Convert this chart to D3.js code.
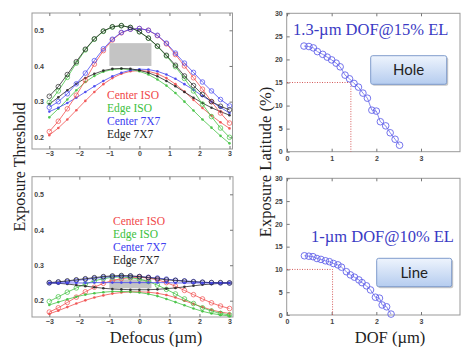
<!DOCTYPE html>
<html>
<head>
<meta charset="utf-8">
<script src="https://cdn.jsdelivr.net/npm/d3@7"></script>
<style>
  body { margin: 0; background: #fff; }
  svg { display: block; }
  .axis text { font-family: "Liberation Sans", Arial, sans-serif; font-weight: bold; font-size: 7px; fill: #444; }
  .axis line { stroke: #777; }
  .axis path { stroke: none; }
  .serif { font-family: "Liberation Serif", "Times New Roman", serif; }
</style>
</head>
<body>
<div id="chart-area"></div>
<script>
// defocus positions (um) shared by all threshold curves
const defocus = [-3,-2.7,-2.4,-2.1,-1.8,-1.5,-1.2,-0.9,-0.6,-0.3,0,0.3,0.6,0.9,1.2,1.5,1.8,2.1,2.4,2.7,3];

// Hole: exposure threshold curves (o = open circles, d = dots)
const holeCenterIsoO = [0.216,0.245,0.280,0.318,0.360,0.405,0.443,0.473,0.493,0.503,0.505,0.500,0.485,0.462,0.432,0.400,0.367,0.335,0.300,0.268,0.240];
const holeCenterIsoD = [0.206,0.226,0.250,0.276,0.302,0.327,0.349,0.366,0.378,0.385,0.387,0.385,0.378,0.366,0.349,0.328,0.305,0.282,0.261,0.242,0.225];
const holeEdgeIsoO   = [0.298,0.330,0.368,0.408,0.445,0.475,0.497,0.509,0.513,0.508,0.496,0.478,0.455,0.428,0.398,0.365,0.330,0.293,0.258,0.226,0.200];
const holeEdgeIsoD   = [0.256,0.280,0.306,0.332,0.355,0.372,0.384,0.390,0.392,0.390,0.385,0.376,0.362,0.345,0.324,0.300,0.275,0.250,0.227,0.204,0.183];
const holeCenter7O   = [0.284,0.300,0.322,0.350,0.380,0.415,0.448,0.475,0.494,0.503,0.505,0.500,0.486,0.464,0.436,0.408,0.382,0.355,0.330,0.306,0.288];
const holeCenter7D   = [0.272,0.283,0.296,0.311,0.327,0.343,0.358,0.371,0.381,0.388,0.391,0.390,0.385,0.376,0.364,0.349,0.333,0.316,0.300,0.284,0.268];
const holeEdge7O     = [0.315,0.342,0.376,0.412,0.447,0.476,0.498,0.510,0.513,0.508,0.496,0.478,0.456,0.430,0.402,0.372,0.345,0.320,0.300,0.287,0.277];
const holeEdge7D     = [0.293,0.312,0.332,0.350,0.366,0.378,0.387,0.392,0.393,0.392,0.388,0.381,0.371,0.358,0.343,0.327,0.311,0.296,0.283,0.272,0.262];

// Line: exposure threshold curves
const lineCenterIsoO = [0.168,0.180,0.195,0.210,0.225,0.238,0.249,0.257,0.262,0.265,0.266,0.264,0.259,0.251,0.241,0.229,0.217,0.205,0.194,0.185,0.178];
const lineCenterIsoD = [0.163,0.172,0.182,0.192,0.201,0.209,0.215,0.220,0.223,0.225,0.225,0.224,0.221,0.216,0.209,0.200,0.191,0.182,0.174,0.168,0.164];
const lineEdgeIsoO   = [0.198,0.211,0.224,0.236,0.247,0.256,0.262,0.266,0.267,0.265,0.261,0.254,0.244,0.232,0.219,0.205,0.192,0.180,0.171,0.164,0.160];
const lineEdgeIsoD   = [0.188,0.196,0.204,0.211,0.217,0.221,0.224,0.226,0.226,0.225,0.223,0.219,0.213,0.205,0.196,0.187,0.178,0.170,0.164,0.160,0.157];
const lineCenter7O   = [0.250,0.252,0.254,0.257,0.260,0.263,0.266,0.268,0.269,0.269,0.268,0.266,0.264,0.261,0.258,0.256,0.254,0.252,0.251,0.250,0.250];
const lineCenter7D   = [0.250,0.250,0.250,0.250,0.250,0.251,0.251,0.251,0.251,0.251,0.251,0.251,0.251,0.251,0.250,0.250,0.250,0.250,0.250,0.250,0.250];
const lineEdge7O     = [0.251,0.253,0.256,0.259,0.262,0.265,0.268,0.270,0.271,0.270,0.268,0.265,0.262,0.259,0.257,0.255,0.253,0.252,0.251,0.251,0.250];
const lineEdge7D     = [0.250,0.249,0.247,0.244,0.241,0.238,0.235,0.233,0.232,0.231,0.231,0.231,0.232,0.234,0.236,0.239,0.242,0.245,0.247,0.249,0.250];

// exposure latitude vs DOF
const holeDof = [0.38,0.49,0.59,0.68,0.80,0.90,1.00,1.10,1.19,1.30,1.40,1.50,1.60,1.70,1.80,1.90,2.00,2.09,2.21,2.31,2.42,2.52];
const holeEl  = [22.9,22.8,22.5,21.7,21.1,20.5,19.9,19.2,18.4,16.6,15.8,14.8,14.0,12.7,11.6,9.0,8.8,6.5,5.6,4.1,2.7,1.4];
const lineDof = [0.39,0.49,0.58,0.67,0.76,0.86,0.95,1.04,1.14,1.22,1.33,1.42,1.51,1.61,1.68,1.78,1.87,1.98,2.07,2.13,2.23,2.33];
const lineEl  = [13.0,12.9,12.8,12.4,12.2,11.9,11.7,11.3,11.0,10.5,9.5,8.8,8.3,7.7,7.1,6.4,5.5,3.9,3.7,2.2,1.8,0.2];

const legendNames = ["Center ISO", "Edge ISO", "Center 7X7", "Edge 7X7"];
const thresholdTicks = [0.2, 0.3, 0.4, 0.5];
const defocusTicks = [-3, -2, -1, 0, 1, 2, 3];
const latitudeTicks = [0, 5, 10, 15, 20, 25, 30];
const dofTicks = [0, 1, 2, 3];

const colors = ["#f04848", "#3cc03c", "#4040f0", "#222222"];

const svg = d3.select("#chart-area").append("svg")
    .attr("width", 461).attr("height", 348);

const defs = svg.append("defs");
const grad = defs.append("linearGradient").attr("id", "boxGrad")
    .attr("x1", 0).attr("y1", 0).attr("x2", 0).attr("y2", 1);
grad.append("stop").attr("offset", "0%").attr("stop-color", "#eef4fd");
grad.append("stop").attr("offset", "100%").attr("stop-color", "#b5ccef");

const intFmt = d3.format("d");

function frame(f) {
    svg.append("rect")
        .attr("x", f.x0).attr("y", f.y0)
        .attr("width", f.x1 - f.x0).attr("height", f.y1 - f.y0)
        .attr("fill", "#fff").attr("stroke", "#999").attr("stroke-width", 1);
}

function thresholdPanel(f, series, legendPos, rect) {
    frame(f);
    const x = d3.scaleLinear().domain([-3, 3]).range([49.3, 229.5]);
    const y = d3.scaleLinear().domain([0.2, 0.5]).range(f.yRange);

    svg.append("g").attr("class", "axis")
        .attr("transform", `translate(0,${f.y1})`)
        .call(d3.axisBottom(x).tickValues(defocusTicks).tickSizeInner(-3).tickSizeOuter(0).tickPadding(2.5).tickFormat(intFmt));
    svg.append("g").attr("class", "axis")
        .attr("transform", `translate(0,${f.y0})`)
        .call(d3.axisTop(x).tickValues(defocusTicks).tickSizeInner(-3).tickSizeOuter(0).tickFormat(""));
    svg.append("g").attr("class", "axis")
        .attr("transform", `translate(47,0)`)
        .call(d3.axisLeft(y).tickValues(thresholdTicks).tickSize(0).tickPadding(3).tickFormat(d3.format(".1f")));
    svg.append("g").attr("class", "axis")
        .attr("transform", `translate(${f.x1},0)`)
        .call(d3.axisRight(y).tickValues(thresholdTicks).tickSizeInner(-3).tickSizeOuter(0).tickFormat(""));

    // gray process window
    svg.append("rect")
        .attr("x", x(rect[0])).attr("y", y(rect[3]))
        .attr("width", x(rect[1]) - x(rect[0])).attr("height", y(rect[2]) - y(rect[3]))
        .attr("fill", "#c4c4c4");

    const line = d3.line().x((d, i) => x(defocus[i])).y(d => y(d));
    series.forEach(s => {
        const g = svg.append("g");
        g.append("path").datum(s.values)
            .attr("d", line).attr("fill", "none")
            .attr("stroke", colors[s.c]).attr("stroke-width", 0.9).attr("stroke-opacity", 0.85);
        g.selectAll("circle").data(s.values).join("circle")
            .attr("cx", (d, i) => x(defocus[i])).attr("cy", d => y(d))
            .attr("r", s.open ? 2.3 : 1.3)
            .attr("fill", s.open ? "none" : colors[s.c])
            .attr("stroke", s.open ? colors[s.c] : "none")
            .attr("stroke-width", 0.8).attr("opacity", 0.85);
    });

    svg.append("g").selectAll("text").data(legendNames).join("text")
        .attr("class", "serif")
        .attr("x", legendPos[0]).attr("y", (d, i) => legendPos[1] + i * legendPos[2])
        .attr("font-size", 11.5)
        .attr("fill", (d, i) => colors[i])
        .text(d => d);
}

function latitudePanel(f, dof, el, mark, title, boxLabel, box) {
    frame(f);
    const x = d3.scaleLinear().domain([0, 3]).range([287, 421]);
    const y = d3.scaleLinear().domain([0, 30]).range([f.y1, f.y0]);

    svg.append("g").attr("class", "axis")
        .attr("transform", `translate(0,${f.y1})`)
        .call(d3.axisBottom(x).tickValues(dofTicks).tickSizeInner(-3).tickSizeOuter(0).tickPadding(4).tickFormat(intFmt));
    svg.append("g").attr("class", "axis")
        .attr("transform", `translate(0,${f.y0})`)
        .call(d3.axisTop(x).tickValues(dofTicks).tickSizeInner(-3).tickSizeOuter(0).tickFormat(""));
    svg.append("g").attr("class", "axis")
        .attr("transform", `translate(${f.x0},0)`)
        .call(d3.axisLeft(y).tickValues(latitudeTicks).tickSizeInner(-3).tickSizeOuter(0).tickPadding(4).tickFormat(intFmt));

    // red dotted guide to the DOF at the target latitude
    svg.append("path")
        .attr("d", `M${x(0)},${y(mark[1])}H${x(mark[0])}V${y(0)}`)
        .attr("fill", "none").attr("stroke", "#d04848").attr("stroke-width", 0.9)
        .attr("stroke-dasharray", "1,1.5");

    const pts = dof.map((d, i) => [d, el[i]]);
    svg.append("path").datum(pts)
        .attr("d", d3.line().x(d => x(d[0])).y(d => y(d[1])))
        .attr("fill", "none").attr("stroke", "#6a6ae8").attr("stroke-width", 0.8);
    svg.append("g").selectAll("circle").data(pts).join("circle")
        .attr("cx", d => x(d[0])).attr("cy", d => y(d[1])).attr("r", 3.3)
        .attr("fill", "none").attr("stroke", "#6464ea").attr("stroke-width", 0.9);

    svg.append("text").attr("class", "serif")
        .attr("x", title[0]).attr("y", title[1])
        .attr("font-size", 16.5).attr("fill", "#3a3ac4")
        .text(title[2]);

    svg.append("rect")
        .attr("x", box[0] + 1.5).attr("y", box[1] + 1.5)
        .attr("width", box[2]).attr("height", box[3]).attr("rx", 2)
        .attr("fill", "#c8c8c8");
    svg.append("rect")
        .attr("x", box[0]).attr("y", box[1])
        .attr("width", box[2]).attr("height", box[3]).attr("rx", 2)
        .attr("fill", "url(#boxGrad)").attr("stroke", "#7f9ccc").attr("stroke-width", 1);
    svg.append("text")
        .attr("x", box[0] + box[2] / 2).attr("y", box[1] + box[3] / 2 + 5)
        .attr("text-anchor", "middle")
        .attr("font-family", "Lato, 'Open Sans', sans-serif")
        .attr("font-size", 15).attr("fill", "#222")
        .text(boxLabel);
}

thresholdPanel({ x0: 32, x1: 232.5, y0: 13, y1: 149, yRange: [137.3, 30.3] },
    [
        { values: holeCenterIsoD, c: 0, open: false },
        { values: holeEdgeIsoD, c: 1, open: false },
        { values: holeCenter7D, c: 2, open: false },
        { values: holeEdge7D, c: 3, open: false },
        { values: holeCenterIsoO, c: 0, open: true },
        { values: holeEdgeIsoO, c: 1, open: true },
        { values: holeCenter7O, c: 2, open: true },
        { values: holeEdge7O, c: 3, open: true }
    ],
    [107, 99, 12.9], [-1, 0.4, 0.4, 0.464]);

thresholdPanel({ x0: 32, x1: 233, y0: 176.7, y1: 317, yRange: [300.7, 194.3] },
    [
        { values: lineCenterIsoO, c: 0, open: true },
        { values: lineCenterIsoD, c: 0, open: false },
        { values: lineEdgeIsoO, c: 1, open: true },
        { values: lineEdgeIsoD, c: 1, open: false },
        { values: lineEdge7D, c: 3, open: false },
        { values: lineCenter7O, c: 2, open: true },
        { values: lineEdge7O, c: 3, open: true },
        { values: lineCenter7D, c: 2, open: false }
    ],
    [113, 225, 12.9], [-1, 0.4, 0.235, 0.26]);

latitudePanel({ x0: 286.7, x1: 460, y0: 13.3, y1: 151.7 }, holeDof, holeEl, [1.43, 15],
    [293, 35, "1.3-\u00b5m DOF@15% EL"], "Hole", [370.7, 55.7, 76, 28.6]);

latitudePanel({ x0: 286.7, x1: 460, y0: 178.3, y1: 315 }, lineDof, lineEl, [1.02, 10],
    [311, 242, "1-\u00b5m DOF@10% EL"], "Line", [376.7, 258.3, 75, 28.4]);

// axis titles
svg.append("text").attr("class", "serif")
    .attr("transform", "translate(19,167) rotate(-90)")
    .attr("text-anchor", "middle").attr("dominant-baseline", "central")
    .attr("font-size", 16).attr("fill", "#222")
    .text("Exposure Threshold");
svg.append("text").attr("class", "serif")
    .attr("transform", "translate(265,162) rotate(-90)")
    .attr("text-anchor", "middle").attr("dominant-baseline", "central")
    .attr("font-size", 16.5).attr("fill", "#222")
    .text("Exposure Latitude (%)");
svg.append("text").attr("class", "serif")
    .attr("x", 156).attr("y", 343)
    .attr("text-anchor", "middle")
    .attr("font-size", 16.5).attr("fill", "#222")
    .text("Defocus (\u00b5m)");
svg.append("text").attr("class", "serif")
    .attr("x", 390).attr("y", 343)
    .attr("text-anchor", "middle")
    .attr("font-size", 16.5).attr("fill", "#222")
    .text("DOF (\u00b5m)");
</script>
</body>
</html>
